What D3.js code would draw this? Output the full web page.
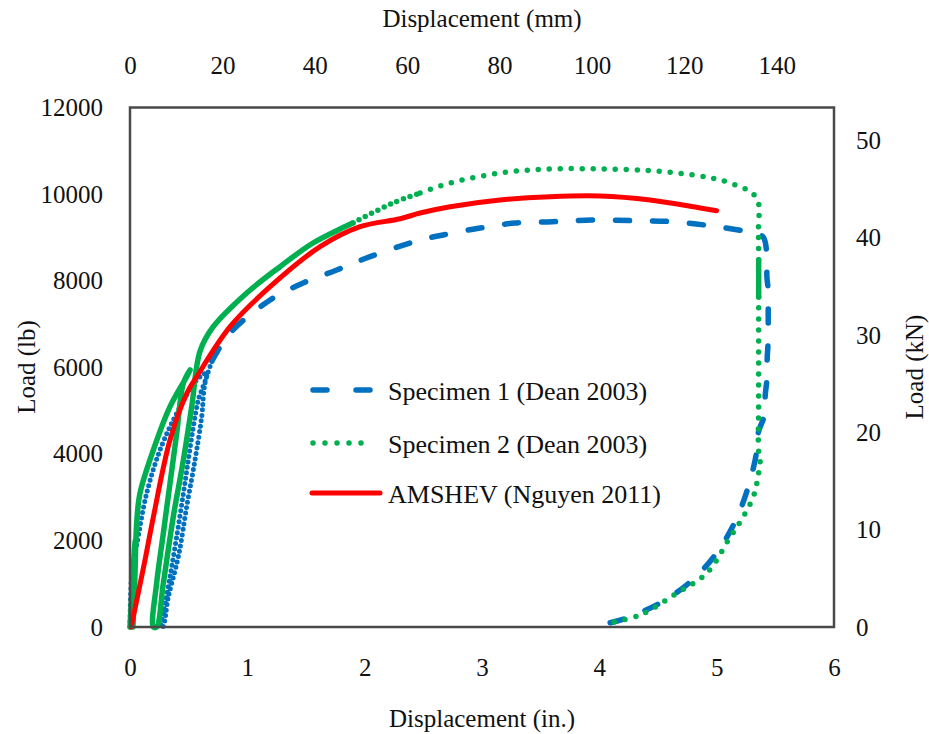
<!DOCTYPE html>
<html>
<head>
<meta charset="utf-8">
<script src="https://cdn.jsdelivr.net/npm/d3@7"></script>
<style>
  html, body { margin: 0; padding: 0; background: #fff; }
  svg { display: block; }
  text { font-family: "Liberation Serif", "Times New Roman", serif; fill: #111; }
</style>
</head>
<body>
<svg id="chart" width="929" height="734"></svg>
<script>
// ---- Data: displacement (in.) and load (lb) ----
const spec1Disp = [0, 0.005, 0.02, 0.057, 0.142, 0.256, 0.398, 0.569, 0.654,
  0.582, 0.54, 0.497, 0.455, 0.398, 0.341, 0.284, 0.262,
  0.279, 0.327, 0.412, 0.483, 0.554, 0.611, 0.639, 0.70,
  0.853, 1.194, 1.475, 1.762, 2.046, 2.472, 2.668, 2.984, 3.282, 3.598, 3.939,
  4.288, 4.629, 5.0, 5.311, 5.396, 5.428, 5.428, 5.439, 5.439, 5.439, 5.43,
  5.43, 5.413, 5.413, 5.354, 5.343, 5.286, 5.172, 5.0, 4.774, 4.518, 4.234, 4.092];
const spec1Load = [0, 700, 1400, 1900, 3089, 4089, 4936, 5706, 5860,
  5244, 4627, 3858, 3089, 2086, 1162, 316, 0,
  0, 700, 1624, 2779, 3858, 4858, 5629, 6150,
  6791, 7554, 7946, 8247, 8554, 8940, 9055, 9217, 9332, 9362, 9402,
  9386, 9362, 9247, 9101, 9009, 8547, 8085, 7785, 7207, 6630, 6168,
  5775, 5313, 4943, 4481, 4089, 3396, 2518, 1709, 1040, 554, 208, 99];

const spec2Disp = [0, 0.02, 0.045, 0.035, 0.025, 0.04, 0.057, 0.085, 0.199, 0.341,
  0.483, 0.512, 0.455, 0.398, 0.341, 0.284, 0.227, 0.199,
  0.227, 0.284, 0.369, 0.455, 0.526, 0.597,
  0.708, 0.995, 1.279, 1.56, 1.9, 2.242, 2.472, 2.728, 3.154, 3.58, 4.007,
  4.433, 4.8, 5.03, 5.226, 5.3, 5.354, 5.356, 5.358, 5.358, 5.358, 5.358,
  5.36, 5.371, 5.343, 5.311, 5.226, 5.115, 4.917, 4.661, 4.348, 4.092];
const spec2Load = [0, 1000, 2000, 900, 0, 1000, 2396, 3089, 4089, 5089,
  5782, 5937, 5630, 4474, 3320, 2165, 1009, 0,
  0, 1009, 2548, 3858, 5089, 6370,
  6930, 7715, 8323, 8870, 9332, 9795, 10025, 10256, 10487, 10580, 10580,
  10540, 10441, 10326, 10141, 10030, 9824, 9171, 8478, 7623, 6399, 5244,
  4019, 3934, 3326, 3003, 2541, 2079, 1247, 785, 277, 99];

const amshevDisp = [0.01, 0.128, 0.199, 0.341, 0.486, 0.569, 0.853, 1.194, 1.62,
  1.961, 2.302, 2.472, 2.728, 3.154, 3.58, 4.007, 4.433, 4.859, 5.0];
const amshevLoad = [0, 1548, 2541, 4320, 5405, 5782, 6937, 7861, 8785,
  9247, 9430, 9563, 9709, 9864, 9940, 9956, 9864, 9679, 9617];

const seriesNames = ["Specimen 1 (Dean 2003)", "Specimen 2 (Dean 2003)", "AMSHEV (Nguyen 2011)"];

const inTicks = [0, 1, 2, 3, 4, 5, 6];
const mmTicks = [0, 20, 40, 60, 80, 100, 120, 140];
const lbTicks = [0, 2000, 4000, 6000, 8000, 10000, 12000];
const knTicks = [0, 10, 20, 30, 40, 50];

const MM_PER_IN = 25.4;
const KN_PER_LB = 0.00444822;

// ---- Layout ----
const svg = d3.select("#chart");
const box = { left: 130, right: 834, top: 107.5, bottom: 627 };

const x = d3.scaleLinear().domain([0, 6]).range([box.left, box.right]);
const xMM = d3.scaleLinear().domain([0, 6 * MM_PER_IN]).range([box.left, box.right]);
const y = d3.scaleLinear().domain([0, 12000]).range([box.bottom, box.top]);
const yKN = d3.scaleLinear().domain([0, 12000 * KN_PER_LB]).range([box.bottom, box.top]);

const FONT = 25;

function styleAxis(g) {
  g.select(".domain").remove();
  g.selectAll(".tick line").remove();
  g.selectAll(".tick text").attr("font-size", FONT).attr("fill", "#111")
    .attr("font-family", "Liberation Serif, serif");
}

svg.append("g").attr("transform", `translate(0,${box.bottom})`)
  .call(d3.axisBottom(x).tickValues(inTicks).tickSize(0).tickPadding(31.5).tickFormat(d3.format("d")))
  .call(styleAxis);
svg.append("g").attr("transform", `translate(0,${box.top})`)
  .call(d3.axisTop(xMM).tickValues(mmTicks).tickSize(0).tickPadding(34).tickFormat(d3.format("d")))
  .call(styleAxis);
svg.append("g").attr("transform", `translate(${box.left},0)`)
  .call(d3.axisLeft(y).tickValues(lbTicks).tickSize(0).tickPadding(27).tickFormat(d3.format("d")))
  .call(styleAxis);
svg.append("g").attr("transform", `translate(${box.right},0)`)
  .call(d3.axisRight(yKN).tickValues(knTicks).tickSize(0).tickPadding(22).tickFormat(d3.format("d")))
  .call(styleAxis);

// Axis titles
svg.append("text").attr("x", 482).attr("y", 18).attr("dy", "0.35em")
  .attr("text-anchor", "middle").attr("font-size", FONT).text("Displacement (mm)");
svg.append("text").attr("x", 482).attr("y", 718).attr("dy", "0.35em")
  .attr("text-anchor", "middle").attr("font-size", FONT).text("Displacement (in.)");
svg.append("text").attr("transform", "translate(26,367) rotate(-90)").attr("dy", "0.35em")
  .attr("text-anchor", "middle").attr("font-size", FONT).text("Load (lb)");
svg.append("text").attr("transform", "translate(914,367) rotate(-90)").attr("dy", "0.35em")
  .attr("text-anchor", "middle").attr("font-size", FONT).text("Load (kN)");

// ---- Series drawing: consecutive segments grouped by stroke style ----
const zip = (xs, ys) => xs.map((d, i) => [d, ys[i]]);
const line = d3.line().x(d => x(d[0])).y(d => y(d[1])).curve(d3.curveCatmullRom.alpha(0.5));

const COLORS = { s1: "#0070C0", s2: "#00B050", am: "#FF0000" };

const DASH = {
  solid: null,
  longDash: "14,23",
  chain: "0,5.5",
  dot: "0,11",
  denseDot: "0,7"
};

function drawSeries(pts, color, width, styleOf) {
  const groups = [];
  for (let i = 0; i < pts.length - 1; i++) {
    const key = styleOf(pts[i], pts[i + 1]);
    const last = groups[groups.length - 1];
    if (last && last.key === key) last.pts.push(pts[i + 1]);
    else groups.push({ key, pts: [pts[i], pts[i + 1]] });
  }
  const g = svg.append("g");
  groups.forEach(gr => {
    g.append("path")
      .attr("d", line(gr.pts))
      .attr("fill", "none")
      .attr("stroke", color)
      .attr("stroke-width", gr.key === "chain" ? 5 : width)
      .attr("stroke-linecap", "round")
      .attr("stroke-linejoin", "round")
      .attr("stroke-dasharray", DASH[gr.key]);
  });
}

// Specimen 1: cyclic start shows as a chain of dots, then long dashes
drawSeries(zip(spec1Disp, spec1Load), COLORS.s1, 5.5, (a, b) =>
  (Math.max(a[0], b[0]) <= 0.7 && Math.max(a[1], b[1]) <= 6150) ? "chain" : "longDash");

// Specimen 2: densely sampled parts look solid, then round dots
drawSeries(zip(spec2Disp, spec2Load), COLORS.s2, 5.5, (a, b) => {
  const mx = Math.max(a[0], b[0]);
  if (mx < 1.95) return "solid";
  if (mx > 5.3 && Math.min(a[1], b[1]) > 7500 && Math.max(a[1], b[1]) < 8600) return "solid";
  if (mx <= 2.5) return "denseDot";
  return "dot";
});

// AMSHEV model: solid
drawSeries(zip(amshevDisp, amshevLoad), COLORS.am, 5, () => "solid");

// Plot frame
svg.append("rect")
  .attr("x", box.left).attr("y", box.top)
  .attr("width", box.right - box.left).attr("height", box.bottom - box.top)
  .attr("fill", "none").attr("stroke", "#4a4a4a").attr("stroke-width", 2.5);

// ---- Legend ----
const legend = svg.append("g");
const legendRows = [
  { name: seriesNames[0], color: COLORS.s1, y: 390, x1: 313, x2: 370, dash: "14,29", w: 5.5 },
  { name: seriesNames[1], color: COLORS.s2, y: 443, x1: 313, x2: 373, dash: "0,12", w: 5.5 },
  { name: seriesNames[2], color: COLORS.am, y: 493, x1: 312, x2: 380, dash: null, w: 5 }
];
legendRows.forEach(r => {
  legend.append("line")
    .attr("x1", r.x1).attr("x2", r.x2).attr("y1", r.y).attr("y2", r.y)
    .attr("stroke", r.color).attr("stroke-width", r.w)
    .attr("stroke-linecap", "round").attr("stroke-dasharray", r.dash);
  legend.append("text").attr("x", 388).attr("y", r.y + 1).attr("dy", "0.35em")
    .attr("font-size", 26).text(r.name);
});
</script>
</body>
</html>
